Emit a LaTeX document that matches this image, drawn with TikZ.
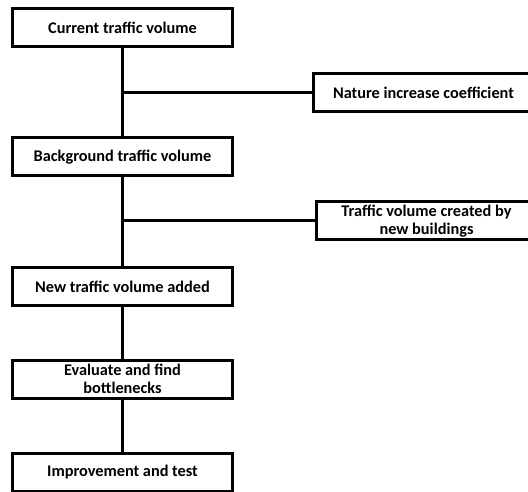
\documentclass[tikz,border=0pt]{standalone}
\usepackage{fontspec}
\setmainfont{Carlito}
\usepackage{xcolor,tikz}
\definecolor{ink}{HTML}{000000}
\newcommand{\stage}[5]{\node[anchor=west,draw=ink,line width=3pt,fill=white,inner sep=0pt,minimum width=#4pt,minimum height=38pt,align=center,font=\fontsize{16.3}{18}\selectfont\bfseries] (#1) at (#2,#3) {#5};}

\begin{document}
\begin{tikzpicture}[x=1pt,y=-1pt]
\useasboundingbox (0,0) rectangle (528,492);
\clip (0,0) rectangle (528,492);
\stage{current}{11}{27.5}{220}{Current traffic volume}
\stage{nature}{312}{93}{220}{Nature increase coefficient}
\stage{background}{11}{157}{220}{Background traffic volume}
\stage{buildings}{315}{221}{220}{Traffic volume created by\\new buildings}
\stage{added}{11}{286.5}{220}{New traffic volume added}
\stage{evaluate}{11}{379}{220}{Evaluate and find\\bottlenecks}
\stage{improve}{11}{472}{220}{Improvement and test}
\draw[line width=3pt,draw=ink] (current.south) -- (background.north);
\draw[line width=3pt,draw=ink] (background.south) -- (added.north);
\draw[line width=3pt,draw=ink] (added.south) -- (evaluate.north);
\draw[line width=3pt,draw=ink] (evaluate.south) -- (improve.north);
\draw[line width=3pt,draw=ink] (current.south |- nature.west) -- (nature.west);
\draw[line width=3pt,draw=ink] (background.south |- buildings.west) -- (buildings.west);
\end{tikzpicture}
\end{document}
